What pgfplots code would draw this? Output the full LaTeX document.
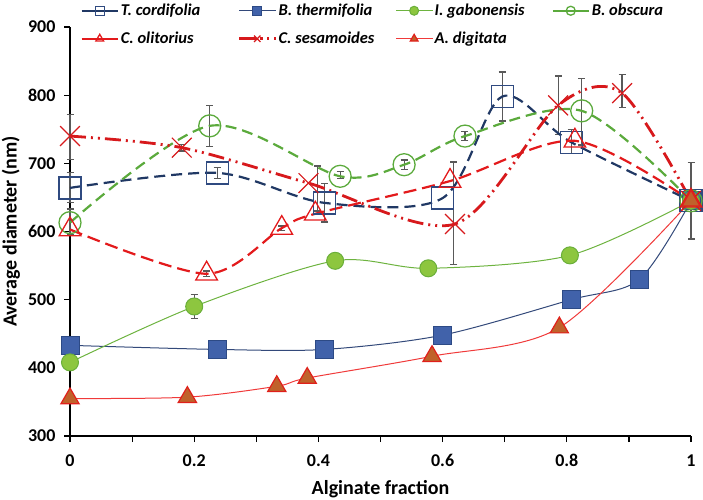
\documentclass[border=0pt]{standalone}
\usepackage{fontspec}
\setmainfont{Carlito}
\usepackage{pgfplots}
\pgfplotsset{compat=1.18}
\usetikzlibrary{plotmarks}
\definecolor{navy}{HTML}{203864}
\definecolor{sqedge}{HTML}{2F4A80}
\definecolor{bfill}{HTML}{4162AA}
\definecolor{bedge}{HTML}{2D4A85}
\definecolor{bline}{HTML}{33497A}
\definecolor{gfill}{HTML}{8DC63F}
\definecolor{gedge}{HTML}{6AAF3A}
\definecolor{gline}{HTML}{6DB33F}
\definecolor{obs}{HTML}{5BAA3C}
\definecolor{ored}{HTML}{E31A1C}
\definecolor{sred}{HTML}{D7191C}
\definecolor{afill}{HTML}{C0622B}
\definecolor{aedge}{HTML}{E0201B}
\definecolor{aline}{HTML}{F03A3A}
\definecolor{ebgray}{HTML}{595959}
\begin{document}
\begin{tikzpicture}
\path[use as bounding box] (0,0) rectangle (703pt,499pt);
\begin{axis}[
 at={(70pt,63pt)}, anchor=south west, scale only axis, width=621pt, height=409pt,
 xmin=0, xmax=1, ymin=300, ymax=900, clip=false,
 axis lines*=left, axis line style={line width=1.8pt, black},
 xtick={0,0.2,0.4,0.6,0.8,1}, xticklabels={0,0.2,0.4,0.6,0.8,1},
 minor xtick={0.1,0.3,0.5,0.7,0.9},
 ytick={300,400,...,900},
 tick align=outside, major tick length=6pt, minor tick length=6pt,
 every tick/.style={black, line width=1.2pt},
 tick label style={font=\fontsize{18}{20}\selectfont\bfseries},
 xticklabel style={yshift=-9pt},
 yticklabel style={xshift=-5pt},
 /pgf/number format/assume math mode=true,
 xlabel={Alginate fraction}, ylabel={Average diameter (nm)},
 label style={font=\fontsize{20}{24}\selectfont\bfseries},
 xlabel style={at={(axis description cs:0.5,-0.13)}, anchor=center},
 ylabel style={at={(axis description cs:-0.095,0.5)}, anchor=center},
 legend columns=4,
 legend style={at={(axis description cs:0.012,1.066)}, anchor=north west, draw=none, fill=none,
   font=\fontsize{16.5}{19}\selectfont\bfseries\itshape, row sep=11pt,
   nodes={inner sep=2pt}},
 legend cell align=left,
 legend image code/.code={\draw[mark repeat=2,mark phase=2,#1,mark size=4.5pt] plot coordinates {(0pt,0pt) (18pt,0pt) (36pt,0pt)};},
]
% error bars
\addplot[draw=none, mark=none, forget plot,
  error bars/.cd, y dir=both, y explicit,
  error bar style={draw=ebgray, line width=1.2pt, solid},
  error mark options={rotate=90, mark size=3.5pt, line width=1.2pt, draw=ebgray}]
 coordinates {
 (0,739) +- (0,33)
 (0,664) +- (0,22)
 (0,614) +- (0,19)
 (0.225,755) +- (0,30)
 (0.18,723) +- (0,5)
 (0.237,686) +- (0,8)
 (0.22,538) +- (0,4)
 (0.2,490) +- (0,18)
 (0.341,605) +- (0,3)
 (0.399,663) +- (0,33)
 (0.41,642) +- (0,28)
 (0.435,683) +- (0,5)
 (0.538,698) +- (0,7)
 (0.636,740) +- (0,7)
 (0.618,627) +- (0,75)
 (0.696,798) +- (0,36)
 (0.787,785) +- (0,43)
 (0.824,776) +- (0,49)
 (0.807,732) +- (0,18)
 (0.889,806) +- (0,24)
 (1,645) +- (0,56)
 };
\addplot[navy, line width=2.2pt, dash pattern=on 11pt off 6pt, smooth,
  mark=square, mark size=11pt, mark options={solid, draw=sqedge, line width=1.3pt, fill=none},
  legend image post style={solid}]
 coordinates {(0,664) (0.237,686) (0.41,642) (0.60,649) (0.696,798) (0.807,731) (1,645)};
\addlegendentry{\makebox[115pt][l]{T. cordifolia}}
\addplot[bline, line width=1pt, smooth,
  mark=square*, mark size=9pt, mark options={solid, draw=bedge, fill=bfill, line width=1pt}]
 coordinates {(0,433) (0.237,427) (0.41,427) (0.60,448) (0.807,500) (0.917,530) (1,645)};
\addlegendentry{\makebox[115pt][l]{B. thermifolia}}
\addplot[gline, line width=1pt, smooth,
  mark=*, mark size=8.5pt, mark options={solid, draw=gedge, fill=gfill, line width=1pt}]
 coordinates {(0,408) (0.2,490) (0.427,557) (0.577,546) (0.805,565) (1,645)};
\addlegendentry{\makebox[115pt][l]{I. gabonensis}}
\addplot[obs, line width=2.2pt, dash pattern=on 11pt off 6pt, smooth,
  mark=o, mark size=11pt, mark options={solid, draw=obs, line width=1.3pt, fill=none},
  legend image post style={solid}]
 coordinates {(0,613) (0.225,755) (0.435,681) (0.538,698) (0.636,740) (0.824,777) (1,645)};
\addlegendentry{B. obscura}
\addplot[ored, line width=2.2pt, dash pattern=on 13pt off 6pt, smooth,
  mark=triangle, mark size=12.5pt, mark options={solid, draw=ored, line width=1.3pt, fill=none},
  legend image post style={solid}]
 coordinates {(0,603) (0.22,538) (0.341,605) (0.395,626) (0.612,674) (0.813,733) (1,645)};
\addlegendentry{\makebox[115pt][l]{C. olitorius}}
\addplot[sred, line width=2.8pt, dash pattern=on 16pt off 5pt on 2pt off 5pt on 2pt off 5pt, smooth,
  mark=x, mark size=14pt, mark options={solid, draw=sred, line width=1.2pt}]
 coordinates {(0,740) (0.18,723) (0.384,671) (0.62,611) (0.786,785) (0.889,803) (1,645)};
\addlegendentry{\makebox[115pt][l]{C. sesamoides}}
\addplot[aline, line width=1pt, smooth,
  mark=triangle*, mark size=10.5pt, mark options={solid, draw=aedge, fill=afill, line width=1.2pt}]
 coordinates {(0,355) (0.189,357) (0.333,373) (0.382,385) (0.583,417) (0.788,459) (1,645)};
\addlegendentry{A. digitata}
\end{axis}
\end{tikzpicture}
\end{document}
